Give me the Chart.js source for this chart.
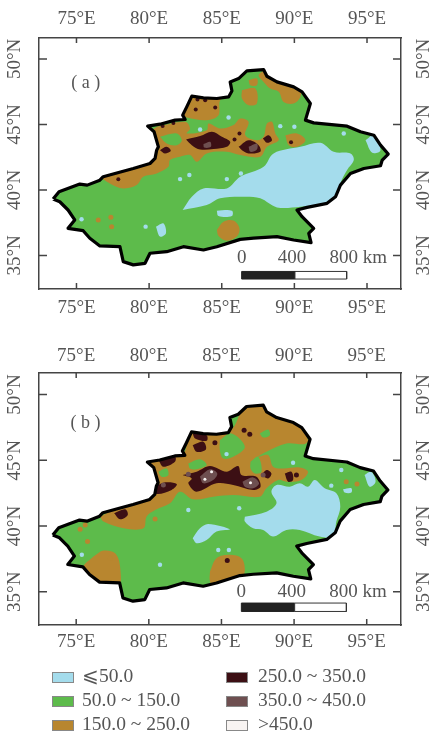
<!DOCTYPE html>
<html>
<head>
<meta charset="utf-8">
<style>
  html, body { margin: 0; padding: 0; background: #fff; overflow: hidden; }
  #page { position: relative; width: 429px; height: 736px; filter: blur(0.55px); }
  canvas { position: absolute; left: 0; }
  #mapA { top: 0; }
  #mapB { top: 340px; }
  .key { position: absolute; font: 19.5px "Liberation Serif", serif; color: #555; line-height: 24px; white-space: nowrap; }
  .swatch { position: absolute; width: 20px; height: 9px; border: 1px solid #888; }
</style>
</head>
<body>
<div id="page">
  <canvas id="mapA" width="429" height="330"></canvas>
  <canvas id="mapB" width="429" height="320"></canvas>
</div>
<script src="https://cdn.jsdelivr.net/npm/chart.js@4"></script>
<script>
var lonTicks = [75, 80, 85, 90, 95];
var latTicks = [35, 40, 45, 50];

var legendLabels = ["⩽50.0", "50.0 ~ 150.0", "150.0 ~ 250.0", "250.0 ~ 350.0", "350.0 ~ 450.0", ">450.0"];
var legendColors = ["#a4dcec", "#5dbb4b", "#b8862f", "#3c0f14", "#6e4f50", "#f8f4f2"];

var scaleBarLons = [86.37, 90.04, 93.6];
var scaleBarLabels = ["0", "400", "800 km"];
var scaleLabelLons = [86.37, 89.84, 94.4];

// province outline, lon/lat
var outline = [[73.39,39.31],[73.80,39.87],[75.23,40.45],[75.74,40.37],[76.61,40.75],[76.84,41.01],[77.65,41.26],[78.91,41.64],[80.06,42.02],[80.41,42.41],[80.52,43.04],[80.64,43.29],[80.34,44.44],[79.90,44.87],[80.75,45.02],[81.79,45.33],[82.48,45.38],[82.31,45.71],[82.59,46.34],[82.94,47.16],[83.74,47.03],[84.66,46.98],[85.47,47.10],[85.70,47.56],[85.58,48.25],[86.16,48.50],[86.73,49.09],[87.88,49.19],[88.11,48.68],[88.80,48.25],[89.95,47.87],[90.53,47.49],[91.10,46.60],[90.76,45.33],[91.33,45.12],[93.63,44.87],[94.55,44.44],[95.47,44.18],[95.93,43.42],[96.46,42.74],[96.05,42.28],[95.93,41.85],[94.78,41.64],[93.86,41.26],[93.17,40.37],[92.83,39.48],[92.25,38.98],[90.87,38.67],[90.18,38.47],[90.53,37.96],[90.87,37.58],[91.33,37.07],[90.99,36.69],[91.15,35.98],[89.95,36.18],[88.80,36.44],[87.19,36.33],[86.27,36.23],[84.66,35.67],[83.74,35.42],[82.36,35.67],[81.21,35.29],[80.06,35.17],[79.72,34.40],[78.91,34.28],[78.22,34.53],[77.99,35.67],[76.61,35.73],[75.92,36.31],[75.46,36.89],[74.42,37.07],[74.88,37.71],[74.42,38.47],[73.85,39.10]];

// panel (a)
var brownA = [
  [[82.36,45.71],[82.94,47.36],[85.58,47.23],[84.89,46.85],[84.78,45.71],[83.97,45.33],[82.59,45.53]],
  [[80.52,44.82],[82.48,45.20],[82.82,44.69],[82.59,44.31],[83.97,44.56],[84.09,45.07],[84.89,44.69],[85.81,44.95],[86.27,45.45],[86.85,45.20],[86.62,44.18],[87.42,43.80],[87.88,44.06],[88.11,45.07],[88.46,45.20],[88.69,44.31],[88.92,43.80],[88.11,43.29],[87.65,42.53],[86.27,42.66],[85.35,42.91],[83.97,42.79],[83.28,42.15],[82.82,42.66],[82.13,42.53],[81.44,42.28],[81.33,41.77],[80.52,41.26],[79.60,41.01],[79.14,40.37],[78.22,40.12],[77.30,40.50],[76.61,41.14],[77.76,41.64],[79.60,42.28],[80.29,42.66],[80.52,43.55],[80.18,44.44]],
  [[88.11,49.26],[88.92,48.37],[90.41,47.82],[90.41,47.10],[89.95,46.60],[89.26,46.72],[88.92,47.49],[88.34,47.74],[87.88,48.25],[87.54,48.76]],
  [[86.39,47.61],[87.31,47.74],[87.42,46.60],[86.85,46.47],[86.39,46.98]],
  [[86.85,48.37],[87.42,48.50],[87.42,47.99],[86.96,47.99]],
  [[89.38,44.18],[90.18,44.31],[90.76,43.80],[90.18,43.29],[89.61,43.42]],
  [[84.66,36.94],[85.12,37.58],[85.81,37.66],[86.22,37.07],[86.04,36.44],[85.35,36.13],[84.78,36.49]]
];
var greenA = [
  [[80.75,44.06],[81.90,44.31],[82.25,43.80],[81.90,43.42],[81.21,43.55]]
];
var blueA = [
  [[82.31,38.47],[82.94,39.48],[83.74,40.12],[85.35,40.12],[86.27,41.01],[87.88,41.77],[88.57,42.79],[90.41,43.29],[91.79,43.60],[92.71,42.91],[93.86,42.79],[94.09,42.28],[93.63,41.52],[93.17,40.50],[92.94,39.23],[91.79,38.93],[90.41,38.72],[88.80,38.67],[87.65,39.36],[86.50,39.48],[84.89,39.36],[83.97,38.85]],
  [[94.90,43.80],[95.47,44.18],[95.93,43.04],[95.36,42.84]],
  [[80.47,37.20],[80.98,37.45],[81.16,36.69],[80.75,36.44]],
  [[84.66,38.42],[85.70,38.42],[85.70,38.01],[84.78,38.01]]
];
var darkA = [
  [[82.54,43.85],[83.51,44.11],[84.32,44.44],[85.01,44.06],[85.58,43.68],[85.35,43.29],[84.43,43.12],[83.51,43.09],[82.94,43.42]],
  [[86.16,43.29],[86.85,43.80],[87.54,43.42],[87.65,42.91],[86.85,42.79],[86.39,43.04]],
  [[80.75,43.04],[81.21,43.29],[81.49,42.99],[81.10,42.79]],
  [[87.83,43.93],[88.23,44.18],[88.46,43.80],[88.11,43.60]]
];
var midA = [
  [[83.74,43.50],[84.20,43.68],[84.25,43.29],[83.79,43.24]],
  [[86.85,43.29],[87.42,43.55],[87.42,43.09],[86.96,42.91]]
];
var brownDotsA = [[76.50,37.71],[77.42,37.20],[77.37,37.91]];
var blueDotsA = [[75.35,37.76],[79.76,37.20],[82.13,40.83],[82.77,41.14],[85.35,40.83],[86.32,41.26],[93.40,44.31],[89.03,44.87],[90.00,44.82],[85.47,45.53],[83.51,44.62]];
var darkDotsA = [[83.33,46.90],[83.86,46.85],[84.55,46.29],[83.21,46.14],[81.67,45.12],[80.93,44.89],[85.88,43.85],[86.22,44.31],[89.77,43.65],[77.88,40.81]];

// panel (b)
var brownB = [
  [[76.65,40.71],[78.02,41.47],[79.85,42.11],[80.20,43.25],[79.63,45.14],[82.37,45.52],[82.83,47.55],[85.58,47.29],[86.72,49.44],[88.10,49.32],[90.39,47.67],[90.96,46.53],[90.73,46.23],[89.47,46.28],[88.10,45.65],[87.53,45.27],[88.21,45.40],[88.56,44.51],[89.24,44.38],[90.39,44.46],[90.96,44.13],[90.50,43.50],[89.47,43.37],[88.90,43.50],[88.10,42.87],[87.64,42.23],[85.81,42.36],[84.43,42.23],[83.06,42.03],[82.14,42.61],[81.46,41.73],[80.43,41.22],[79.85,40.72],[79.63,39.83],[78.25,39.83],[76.88,40.34]],
  [[76.19,37.68],[76.88,38.13],[77.68,37.93],[78.02,36.92],[77.91,35.28],[76.65,35.28],[75.73,36.41],[75.50,36.92]],
  [[84.21,36.54],[84.66,37.55],[85.58,37.81],[86.38,37.55],[86.61,36.67],[86.38,36.03],[84.55,35.28],[84.21,35.78]]
];
var greenB = [
  [[84.89,46.53],[85.69,47.04],[86.61,46.03],[85.81,45.27],[85.12,45.14],[84.89,45.77]],
  [[82.72,44.76],[83.52,45.07],[83.98,44.64],[83.29,44.31],[82.83,44.38]],
  [[87.00,44.89],[87.53,45.27],[87.76,44.13],[87.30,44.00],[87.00,44.38]],
  [[87.64,47.04],[88.21,47.34],[88.33,46.91],[87.87,46.74]],
  [[80.66,44.13],[81.23,44.38],[81.34,43.87],[80.88,43.75]]
];
var blueB = [
  [[86.61,40.71],[88.10,41.09],[88.79,41.73],[88.44,42.61],[88.79,43.12],[89.70,42.99],[90.39,43.25],[90.96,42.99],[91.42,43.50],[92.11,42.87],[92.91,42.49],[93.18,41.47],[92.91,40.34],[92.68,39.20],[91.76,39.20],[90.39,39.70],[89.47,39.70],[88.56,39.20],[87.87,39.70],[87.18,39.83],[86.61,40.34]],
  [[83.02,39.07],[83.52,39.83],[84.09,40.16],[85.58,39.75],[84.66,39.58],[83.98,38.94],[83.29,38.69]],
  [[94.85,43.88],[95.31,44.13],[95.61,43.37],[95.20,42.99]],
  [[93.37,42.79],[93.94,42.87],[93.94,42.54],[93.48,42.54]]
];
var darkB = [
  [[82.33,43.88],[83.29,44.13],[84.21,44.56],[85.35,44.13],[86.15,44.56],[86.38,43.88],[87.41,43.75],[87.69,42.99],[87.18,42.74],[85.81,43.12],[84.66,43.25],[83.29,42.61],[82.72,43.25],[82.95,43.62]],
  [[80.31,42.87],[80.99,43.30],[81.92,43.19],[81.57,42.74],[80.54,42.44]],
  [[77.61,40.97],[78.37,41.27],[78.55,40.84],[78.02,40.51]],
  [[80.66,45.02],[81.80,45.27],[81.80,44.89],[81.00,44.51]],
  [[83.02,47.04],[83.98,46.91],[83.98,46.48],[83.18,46.66]],
  [[83.02,46.15],[83.75,46.41],[83.93,45.83],[83.29,45.65]],
  [[87.75,43.88],[88.10,44.26],[88.44,44.00],[88.21,43.62]],
  [[89.36,44.00],[89.82,44.13],[89.93,43.50],[89.59,43.37]]
];
var midB = [
  [[83.52,43.75],[84.21,44.31],[84.71,44.00],[84.43,43.50],[83.75,43.25]],
  [[86.45,43.37],[87.18,43.70],[87.59,43.25],[87.18,42.87],[86.61,42.99]]
];
var brownDotsB = [[80.43,40.54],[75.78,38.82],[75.27,39.75],[93.59,43.37],[94.33,43.19],[75.62,40.08],[77.34,37.55]];
var blueDotsB = [[80.77,37.05],[84.78,38.18],[85.51,38.18],[75.39,37.81],[92.56,43.07],[93.25,44.26],[89.93,44.81],[85.35,45.47],[86.22,41.35],[82.72,41.22]];
var darkDotsB = [[86.56,47.29],[86.95,46.99],[84.55,46.33],[90.16,43.88],[85.40,37.38]];
var midDotsB = [[82.72,43.93],[87.87,43.88],[81.00,43.12]];
var whiteDotsB = [[84.32,44.13],[83.86,43.55],[87.00,43.30]];

var BLUE = legendColors[0], GREEN = legendColors[1], BROWN = legendColors[2],
    DARK = legendColors[3], MID = legendColors[4], WHITE = legendColors[5];
var INK = "#555", FRAME = "#444";
var SERIF = "'Liberation Serif', serif";

function toXY(points) {
  return points.map(function (p) { return { x: p[0], y: p[1] }; });
}
function shape(points, color, extra) {
  return Object.assign({
    data: toXY(points.concat([points[0]])),
    showLine: true, fill: "shape", tension: 0,
    backgroundColor: color, borderWidth: 0, pointRadius: 0
  }, extra || {});
}
function shapes(list, color) {
  return list.map(function (points) { return shape(points, color, { tension: 0.35 }); });
}
function dots(points, color, radius) {
  return { data: toXY(points), showLine: false, pointRadius: radius, pointBackgroundColor: color, pointBorderWidth: 0 };
}

// fills are cut to the province outline, then outline and scale bar go on top
var mapPlugin = {
  id: "mapPlugin",
  beforeDatasetsDraw: function (chart) {
    var c = chart.ctx, x = chart.scales.x, y = chart.scales.y;
    c.save();
    c.beginPath();
    outline.forEach(function (p, i) {
      var px = x.getPixelForValue(p[0]), py = y.getPixelForValue(p[1]);
      if (i) c.lineTo(px, py); else c.moveTo(px, py);
    });
    c.closePath();
    c.clip();
  },
  afterDatasetDraw: function (chart, args) {
    if (chart.data.datasets[args.index].endClip) chart.ctx.restore();
  },
  afterDatasetsDraw: function (chart, args, opts) {
    var c = chart.ctx, s = chart.scales, a = chart.chartArea;
    c.save();
    c.strokeStyle = FRAME;
    c.lineWidth = 1.5;
    c.beginPath();
    lonTicks.forEach(function (v) {
      var px = s.x.getPixelForValue(v);
      c.moveTo(px, a.top); c.lineTo(px, a.top + 5);
      c.moveTo(px, a.bottom); c.lineTo(px, a.bottom - 6);
    });
    latTicks.forEach(function (v) {
      var py = s.y.getPixelForValue(v);
      c.moveTo(a.left, py); c.lineTo(a.left + 8, py);
      c.moveTo(a.right, py); c.lineTo(a.right - 8, py);
    });
    c.stroke();
    c.fillStyle = INK;
    c.font = "19px " + SERIF;
    c.textAlign = "center";
    c.textBaseline = "middle";
    scaleBarLabels.forEach(function (t, i) {
      c.fillText(t, s.x.getPixelForValue(scaleLabelLons[i]), s.y.getPixelForValue(opts.scaleLabelLat));
    });
    c.font = "18px " + SERIF;
    c.fillText(opts.label, s.x.getPixelForValue(opts.labelAt[0]), s.y.getPixelForValue(opts.labelAt[1]));
    c.restore();
  }
};

function panel(id, box, layers, bar, label, labelAt, scaleLabelLat) {
  var lo = bar[0], hi = bar[1];
  // painted bottom to top, Chart.js draws the last dataset first
  var painted = [shape(outline, GREEN)].concat(layers);
  painted[painted.length - 1].endClip = true;
  painted.push(shape(outline, "rgba(0,0,0,0)", { borderWidth: 3.2, borderColor: "#000", fill: false, borderJoinStyle: "round" }));
  painted.push(shape([[scaleBarLons[0], lo], [scaleBarLons[1], lo], [scaleBarLons[1], hi], [scaleBarLons[0], hi]], "#222", { borderWidth: 1, borderColor: "#222" }));
  painted.push(shape([[scaleBarLons[1], lo], [scaleBarLons[2], lo], [scaleBarLons[2], hi], [scaleBarLons[1], hi]], "#fff", { borderWidth: 1, borderColor: "#333" }));

  function xAxis(position, size) {
    return {
      type: "linear", position: position, min: box.xMin, max: box.xMax,
      afterBuildTicks: function (s) { s.ticks = lonTicks.map(function (v) { return { value: v }; }); },
      afterFit: function (s) { s.height = size; },
      grid: { display: false, drawTicks: false },
      border: { color: FRAME, width: 1.5 },
      ticks: {
        autoSkip: false, maxRotation: 0, padding: box.xPad, color: INK,
        font: { family: SERIF, size: 19 },
        callback: function (v) { return v + "°E"; }
      }
    };
  }
  function yAxis(position, size, pad) {
    return {
      type: "linear", position: position, min: box.yMin, max: box.yMax,
      afterBuildTicks: function (s) { s.ticks = latTicks.map(function (v) { return { value: v }; }); },
      afterFit: function (s) { s.width = size; },
      grid: { display: false, drawTicks: false },
      border: { color: FRAME, width: 1.5 },
      ticks: {
        autoSkip: false, minRotation: 90, maxRotation: 90, crossAlign: "center", padding: pad, color: INK,
        font: { family: SERIF, size: 19 },
        callback: function (v) { return v + "°N"; }
      }
    };
  }

  return new Chart(id, {
    type: "scatter",
    data: { datasets: painted.reverse() },
    options: {
      responsive: false,
      animation: false,
      layout: { padding: 0 },
      plugins: {
        legend: { display: false },
        tooltip: { enabled: false },
        mapPlugin: { label: label, labelAt: labelAt, scaleLabelLat: scaleLabelLat }
      },
      scales: {
        x: xAxis("bottom", box.bottom),
        x2: xAxis("top", box.top),
        y: yAxis("left", box.left, 4),
        y2: yAxis("right", box.right, 3)
      }
    },
    plugins: [mapPlugin]
  });
}

panel("mapA",
  { xMin: 72.42, xMax: 97.34, yMin: 32.44, yMax: 51.6, left: 39, right: 28, top: 38, bottom: 41, xPad: 8 },
  [].concat(shapes(brownA, BROWN), shapes(greenA, GREEN), shapes(blueA, BLUE), shapes(darkA, DARK), shapes(midA, MID),
    [dots(brownDotsA, BROWN, 2.5), dots(blueDotsA, BLUE, 2.2), dots(darkDotsA, DARK, 2)]),
  [33.78, 33.2], "( a )", [75.64, 48.12], 34.8);

panel("mapB",
  { xMin: 72.44, xMax: 97.36, yMin: 32.47, yMax: 51.64, left: 39, right: 28, top: 33, bottom: 35, xPad: 6 },
  [].concat(shapes(brownB, BROWN), shapes(greenB, GREEN), shapes(blueB, BLUE), shapes(darkB, DARK), shapes(midB, MID),
    [dots(brownDotsB, BROWN, 2.5), dots(blueDotsB, BLUE, 2.2), dots(darkDotsB, DARK, 2.5), dots(midDotsB, MID, 2.5), dots(whiteDotsB, WHITE, 1.5)]),
  [34.14, 33.5], "( b )", [75.64, 47.85], 35.0);

// legend, two columns of three
var page = document.getElementById("page");
legendLabels.forEach(function (text, i) {
  var col = i < 3 ? 0 : 1, row = i % 3;
  var top = 664 + row * 24;
  var sw = document.createElement("div");
  sw.className = "swatch";
  sw.style.left = (col ? 226 : 52) + "px";
  sw.style.top = (top + 8) + "px";
  sw.style.background = legendColors[i];
  page.appendChild(sw);
  var key = document.createElement("div");
  key.className = "key";
  key.style.left = (col ? 258 : 82) + "px";
  key.style.top = top + "px";
  key.textContent = text;
  page.appendChild(key);
});
</script>
</body>
</html>
